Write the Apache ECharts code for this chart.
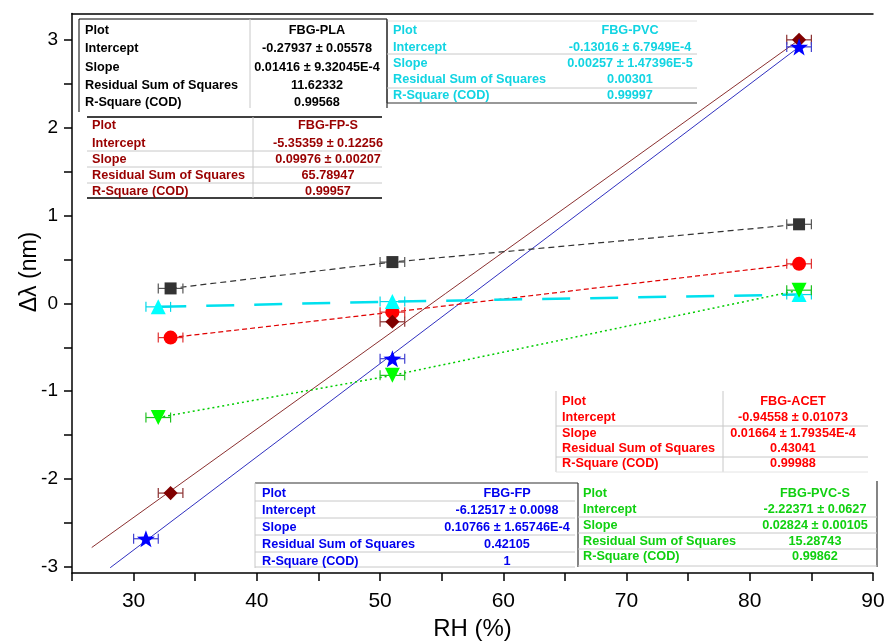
<!DOCTYPE html>
<html><head><meta charset="utf-8">
<script src="https://cdn.jsdelivr.net/npm/echarts@6/dist/echarts.min.js"></script>
<style>html,body{margin:0;padding:0;background:#fff}#c{width:889px;height:641px}</style>
</head><body><div id="c"></div>
<script>
// ---- tick labels ----
const xTickLabels = [30, 40, 50, 60, 70, 80, 90];
const yTickLabels = [-3, -2, -1, 0, 1, 2, 3];
const yTickMarks = [-3, -2.5, -2, -1.5, -1, -0.5, 0, 0.5, 1, 1.5, 2, 2.5, 3];

// ---- data (RH %, delta lambda nm) ----
const plaX = [33, 51, 84],  plaY = [0.17, 0.47, 0.90];
const acetX = [33, 51, 84], acetY = [-0.39, -0.10, 0.45];
const pvcX = [32, 51, 84],  pvcY = [-0.04, 0.02, 0.10];
const pvcsX = [32, 51, 84], pvcsY = [-1.30, -0.82, 0.15];
const fpsX = [33, 51, 84],  fpsY = [-2.16, -0.21, 3.00];
const fpX = [31, 51, 84],   fpY = [-2.68, -0.63, 2.92];
const errMinus = [1, 1, 1], errPlus = [1, 1, 1];

// fit line end points
const fpsLineX = [26.6, 84], fpsLineY = [-2.78, 3.00];
const fpLineX = [28.1, 84],  fpLineY = [-3.01, 2.92];

// ---- fit tables ----
const rowLabels = ['Plot', 'Intercept', 'Slope', 'Residual Sum of Squares', 'R-Square (COD)'];
const plaStats = ['FBG-PLA', '-0.27937 \u00b1 0.05578', '0.01416 \u00b1 9.32045E-4', '11.62332', '0.99568'];
const pvcStats = ['FBG-PVC', '-0.13016 \u00b1 6.7949E-4', '0.00257 \u00b1 1.47396E-5', '0.00301', '0.99997'];
const fpsStats = ['FBG-FP-S', '-5.35359 \u00b1 0.12256', '0.09976 \u00b1 0.00207', '65.78947', '0.99957'];
const acetStats = ['FBG-ACET', '-0.94558 \u00b1 0.01073', '0.01664 \u00b1 1.79354E-4', '0.43041', '0.99988'];
const fpStats = ['FBG-FP', '-6.12517 \u00b1 0.0098', '0.10766 \u00b1 1.65746E-4', '0.42105', '1'];
const pvcsStats = ['FBG-PVC-S', '-2.22371 \u00b1 0.0627', '0.02824 \u00b1 0.00105', '15.28743', '0.99862'];

const FONT = '"Liberation Sans", Arial, sans-serif';
const NARROW = '"Liberation Sans Narrow", "Liberation Sans", Arial, sans-serif';
const zip = (xs, ys) => xs.map((x, i) => [x, ys[i]]);
const errData = (xs, ys) => xs.map((x, i) => [x, ys[i], errMinus[i], errPlus[i]]);
const STAR = 'path://M0,-10 L2.35,-3.24 L9.51,-3.09 L3.8,1.24 L5.88,8.09 L0,4 L-5.88,8.09 L-3.8,1.24 L-9.51,-3.09 L-2.35,-3.24 Z';

function errSeries(xs, ys, color) {
  return {
    type: 'custom', silent: true, clip: false, z: 3,
    data: errData(xs, ys),
    encode: { x: 0, y: 1 },
    renderItem: function (params, api) {
      const x = api.value(0), y = api.value(1);
      const p1 = api.coord([x - api.value(2), y]);
      const p2 = api.coord([x + api.value(3), y]);
      const h = 5, st = { stroke: color, lineWidth: 1.2 };
      return { type: 'group', children: [
        { type: 'line', shape: { x1: p1[0], y1: p1[1], x2: p2[0], y2: p2[1] }, style: st },
        { type: 'line', shape: { x1: p1[0], y1: p1[1] - h, x2: p1[0], y2: p1[1] + h }, style: st },
        { type: 'line', shape: { x1: p2[0], y1: p2[1] - h, x2: p2[0], y2: p2[1] + h }, style: st }
      ]};
    }
  };
}
function lineSeries(xs, ys, color, type, width) {
  return { type: 'line', data: zip(xs, ys), symbol: 'none', silent: true, z: 2,
    lineStyle: { color: color, type: type, width: width } };
}
function markSeries(xs, ys, color, symbol, size, rotate) {
  return { type: 'scatter', data: zip(xs, ys), symbol: symbol, symbolSize: size,
    symbolRotate: rotate || 0, symbolKeepAspect: true, silent: true, z: 5,
    itemStyle: { color: color, opacity: 1 } };
}

function table(stats, o) {
  const els = [];
  const font = 'bold 12.7px ' + FONT;
  o.rowsY.forEach((y, i) => {
    els.push({ type: 'text', silent: true, z: 20, style: { text: rowLabels[i], x: o.labelX, y: y, fill: o.color, font: font,
      textAlign: 'left', textVerticalAlign: 'middle', align: 'left', verticalAlign: 'middle' } });
    els.push({ type: 'text', silent: true, z: 20, style: { text: stats[i], x: o.valueX, y: y, fill: o.color, font: font,
      textAlign: 'center', textVerticalAlign: 'middle', align: 'center', verticalAlign: 'middle' } });
  });
  (o.lines || []).forEach(l => {
    els.push({ type: 'line', silent: true, z: 19, shape: { x1: l[0], y1: l[1], x2: l[2], y2: l[3] },
      style: { stroke: l[4], lineWidth: l[5] } });
  });
  return els;
}

const G = '#c8c8c8', D = '#333';
const graphics = [].concat(
  table(plaStats, { color: '#000', labelX: 85, valueX: 317, rowsY: [30, 48, 67, 85, 102],
    lines: [[79, 19, 387, 19, '#000', 1], [79, 19, 79, 112, '#000', 1], [387, 19, 387, 108, '#000', 1], [250, 19, 250, 108, G, 1]] }),
  table(pvcStats, { color: '#12d4e2', labelX: 393, valueX: 630, rowsY: [30, 47, 63, 79, 95],
    lines: [[387, 21, 697, 21, '#e0e0e0', 1], [387, 20, 387, 103, D, 1], [387, 103, 697, 103, D, 1.2], [387, 54, 697, 54, G, 1], [387, 88, 697, 88, G, 1]] }),
  table(fpsStats, { color: '#990000', labelX: 92, valueX: 328, rowsY: [125, 143, 159, 175, 191],
    lines: [[87, 117, 382, 117, '#000', 1.5], [87, 198, 382, 198, '#000', 1.5], [87, 151, 382, 151, G, 1], [87, 167, 382, 167, G, 1], [87, 183, 382, 183, G, 1], [253, 117, 253, 198, G, 1]] }),
  table(acetStats, { color: '#ff0000', labelX: 562, valueX: 793, rowsY: [401, 417, 433, 448, 463],
    lines: [[556, 391, 556, 472, G, 1], [723, 391, 723, 472, G, 1], [556, 426, 868, 426, G, 1], [556, 457, 868, 457, G, 1], [556, 472, 868, 472, '#e4e4e4', 1]] }),
  table(fpStats, { color: '#0000ee', labelX: 262, valueX: 507, rowsY: [493, 510, 527, 544, 561],
    lines: [[255, 483, 578, 483, D, 1.2], [255, 483, 255, 568, G, 1], [255, 501, 575, 501, G, 1], [255, 518, 575, 518, G, 1], [255, 535, 575, 535, G, 1], [255, 552, 575, 552, G, 1], [255, 567, 575, 567, G, 1]] }),
  table(pvcsStats, { color: '#10d010', labelX: 583, valueX: 815, rowsY: [493, 509, 525, 541, 556],
    lines: [[578, 483, 578, 567, D, 1.2], [877, 481, 877, 567, D, 1.2], [578, 517, 877, 517, G, 1], [578, 533, 877, 533, G, 1], [578, 549, 877, 549, G, 1], [578, 566, 877, 566, G, 1]] }),
  [{ type: 'text', silent: true, x: 30, y: 272, rotation: Math.PI / 2,
     style: { text: '\u0394\u03bb (nm)', font: '23px ' + FONT, fill: '#000', textAlign: 'center', textVerticalAlign: 'middle', align: 'center', verticalAlign: 'middle' } }]
);

const axisLine = { show: true, onZero: false, lineStyle: { color: '#000', width: 1.5 } };
const option = {
  animation: false,
  backgroundColor: '#fff',
  grid: { left: 72, right: 16, top: 13.5, bottom: 68, containLabel: false, outerBoundsMode: 'none' },
  xAxis: [{
    type: 'value', min: 25, max: 90, interval: 5,
    axisLine: axisLine,
    axisTick: { show: true, inside: false, length: 8, lineStyle: { color: '#000', width: 1.5 } },
    axisLabel: { color: '#000', fontSize: 21, fontFamily: NARROW, margin: 18,
      formatter: v => (xTickLabels.indexOf(v) >= 0 ? String(v) : '') },
    splitLine: { show: false },
    name: 'RH (%)', nameLocation: 'middle', nameGap: 41,
    nameTextStyle: { color: '#000', fontSize: 24, fontFamily: FONT }
  }, {
    type: 'value', position: 'top', min: 25, max: 90,
    axisLine: axisLine, axisTick: { show: false }, axisLabel: { show: false }, splitLine: { show: false }
  }],
  yAxis: [{
    type: 'value', min: -3.07, max: 3.30,
    axisLine: axisLine,
    axisTick: { show: true, inside: false, length: 8, customValues: yTickMarks, lineStyle: { color: '#000', width: 1.5 } },
    axisLabel: { color: '#000', fontSize: 19, fontFamily: FONT, margin: 14, customValues: yTickLabels },
    splitLine: { show: false }
  }],
  series: [
    lineSeries(fpsLineX, fpsLineY, '#8b3030', 'solid', 1),
    lineSeries(fpLineX, fpLineY, '#3030c0', 'solid', 1),
    lineSeries(plaX, plaY, '#333', [6, 4], 1.2),
    lineSeries(acetX, acetY, '#e00000', [5, 3], 1.2),
    lineSeries(pvcX, pvcY, '#00e0ee', [28, 20], 2.5),
    lineSeries(pvcsX, pvcsY, '#00cc00', [2, 3], 1.5),
    errSeries(plaX, plaY, '#555'),
    errSeries(acetX, acetY, '#e03030'),
    errSeries(pvcX, pvcY, '#00d8e8'),
    errSeries(pvcsX, pvcsY, '#20c020'),
    errSeries(fpsX, fpsY, '#8b3030'),
    errSeries(fpX, fpY, '#4040d0'),
    markSeries(plaX, plaY, '#333333', 'rect', 12),
    markSeries(acetX, acetY, '#ff0000', 'circle', 14),
    markSeries(pvcX, pvcY, '#00ffff', 'triangle', 15),
    markSeries(pvcsX, pvcsY, '#00ff00', 'triangle', 15, 180),
    markSeries(fpsX, fpsY, '#800000', 'rect', 10, 45),
    markSeries(fpX, fpY, '#0000ff', STAR, 18)
  ],
  graphic: graphics
};
const chart = echarts.init(document.getElementById('c'), null, { renderer: 'canvas' });
chart.setOption(option);
</script></body></html>
